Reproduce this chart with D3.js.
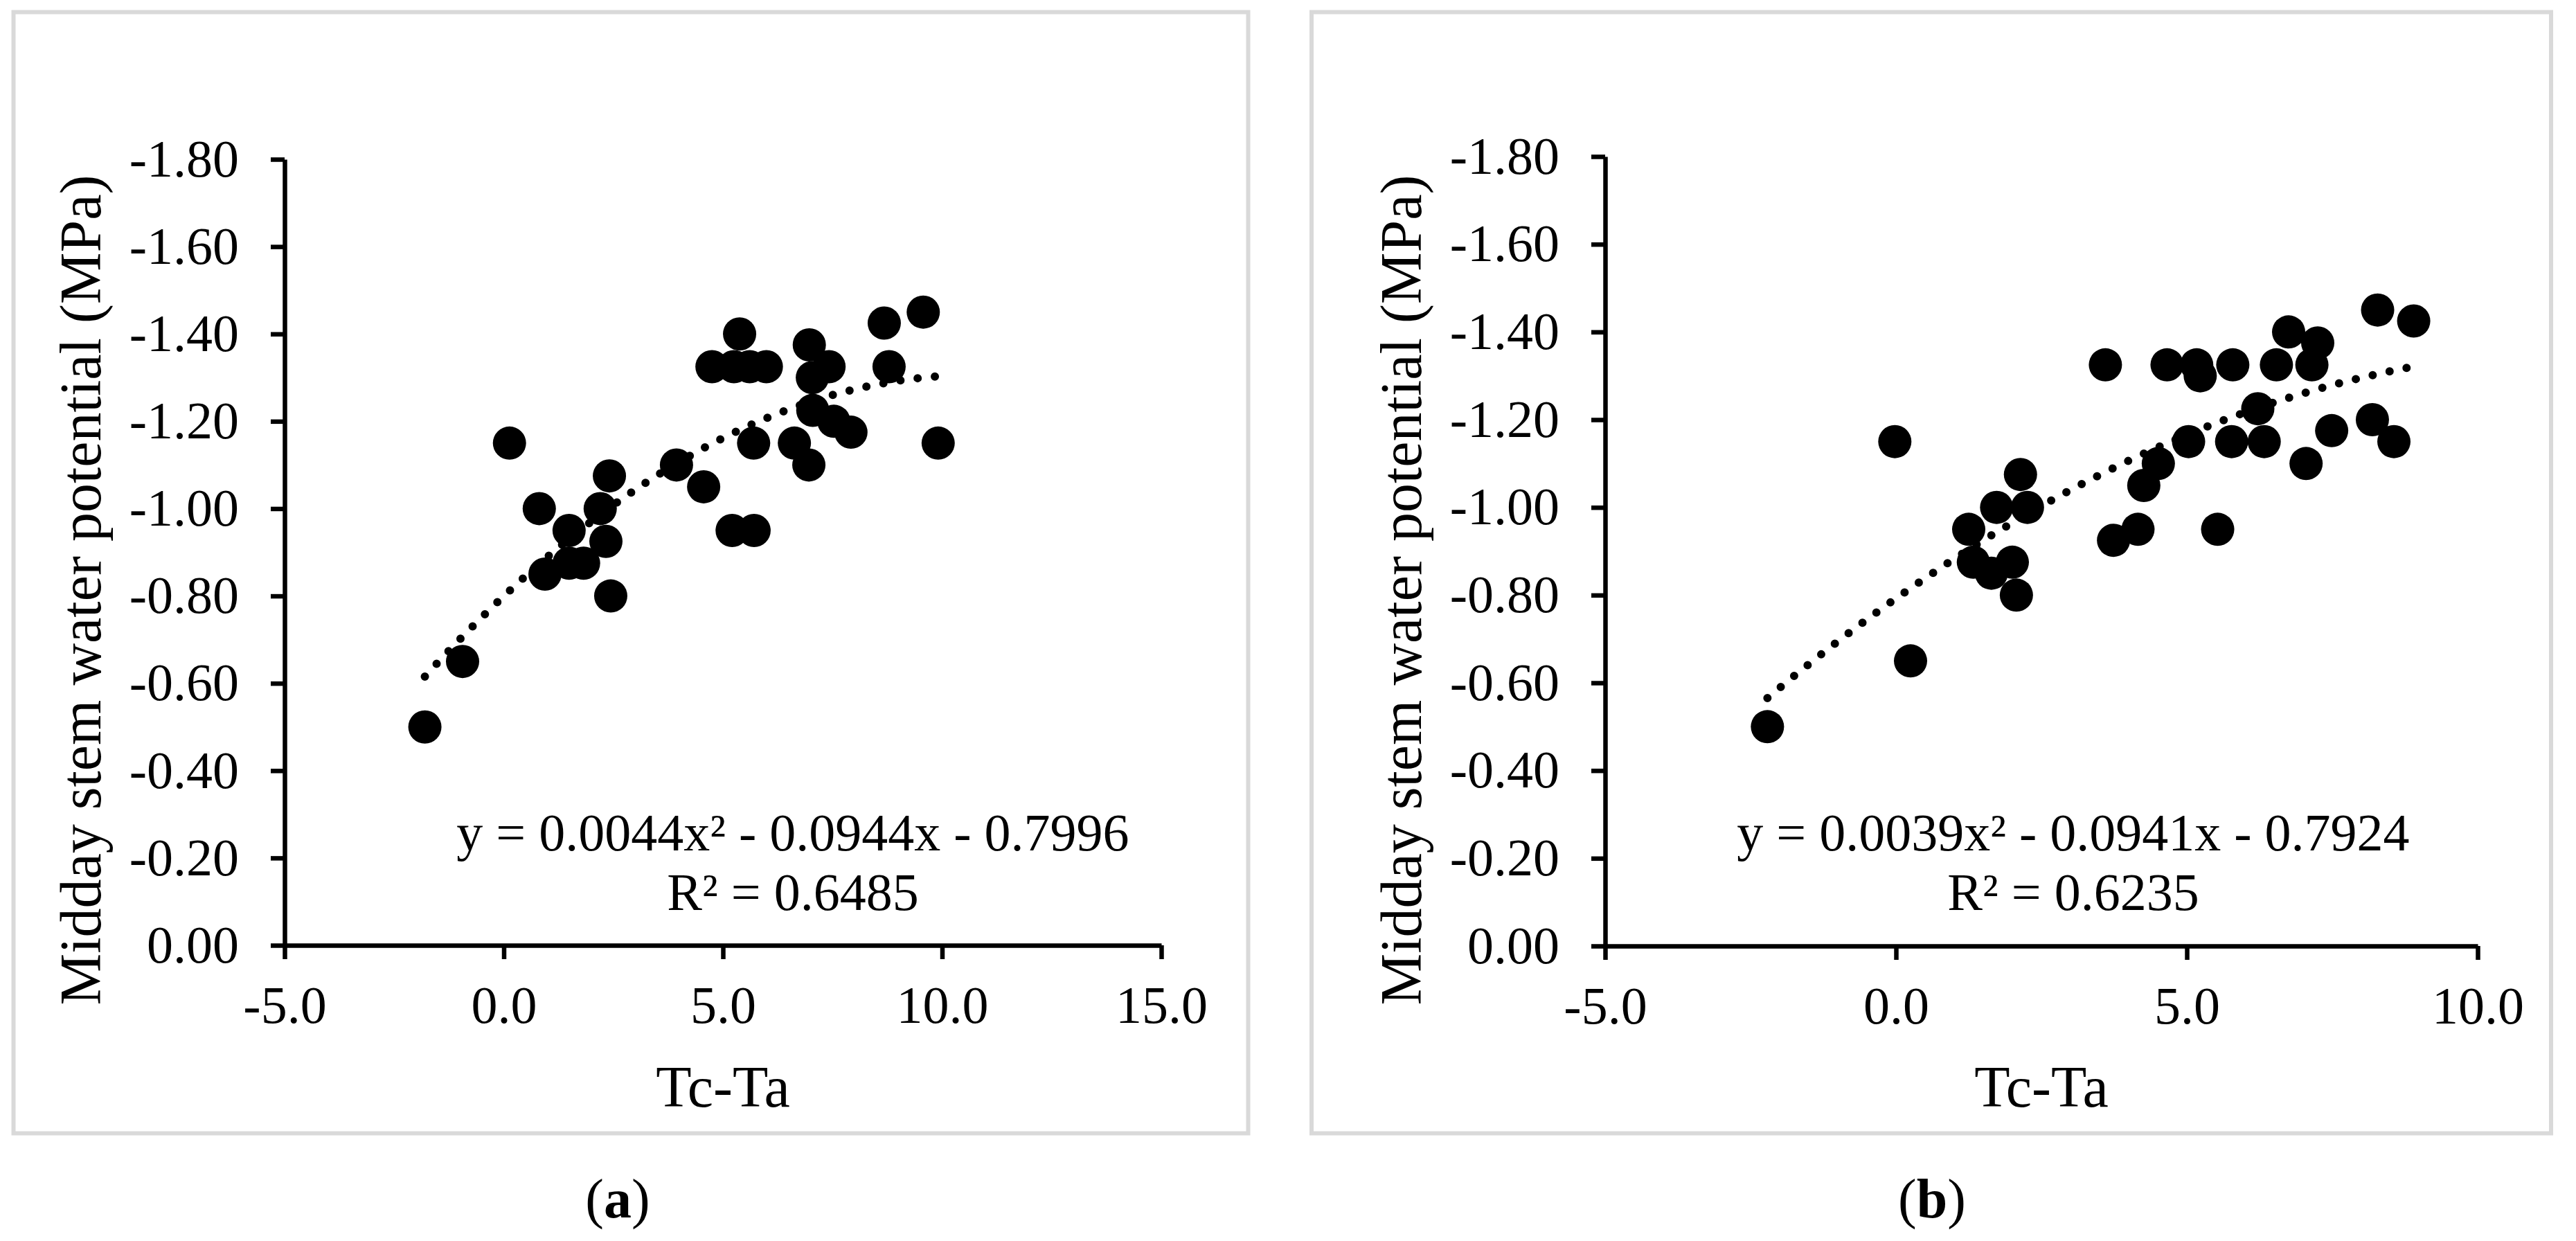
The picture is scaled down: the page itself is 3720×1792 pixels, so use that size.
<!DOCTYPE html>
<html lang="en">
<head>
  <meta charset="utf-8">
  <title>Midday stem water potential vs Tc-Ta</title>
  <script src="https://d3js.org/d3.v7.min.js"></script>
  <style>
    body { margin: 0; background: #fff; }
    svg { display: block; font-family: "Liberation Serif", "Times New Roman", serif; }
  </style>
</head>
<body>

<svg width="3720" height="1792"></svg>

<script>
  // panel (a)
  var tcTaA = [-1.80, -0.94, 0.13, 0.81, 0.94, 1.49, 1.49, 1.82, 2.20, 2.33, 2.41, 2.44,
               3.94, 4.56, 4.75, 5.25, 5.61, 5.99, 5.38, 5.21, 5.71, 5.70, 6.63, 6.96,
               6.97, 7.04, 7.42, 7.05, 7.53, 7.92, 8.68, 8.79, 9.57, 9.91];
  var swpA  = [-0.50, -0.65, -1.15, -1.00, -0.85, -0.95, -0.875, -0.875, -1.00, -0.925, -1.075, -0.80,
               -1.10, -1.05, -1.325, -1.325, -1.325, -1.325, -1.40, -0.95, -0.95, -1.15, -1.15, -1.10,
               -1.375, -1.30, -1.325, -1.225, -1.20, -1.175, -1.425, -1.325, -1.45, -1.15];
  var xTicksA = [-5, 0, 5, 10, 15];
  var fitA = [0.0044, -0.0944, -0.7996];
  var eqA = ["y = 0.0044x² - 0.0944x - 0.7996", "R² = 0.6485"];

  // panel (b)
  var tcTaB = [-2.21, -0.02, 0.25, 1.25, 1.33, 1.64, 1.73, 2.00, 2.07, 2.14, 2.26, 3.60,
               3.74, 4.16, 4.26, 4.51, 4.66, 5.03, 5.17, 5.23, 5.53, 5.77, 5.79, 6.22,
               6.33, 6.54, 6.75, 7.05, 7.15, 7.25, 7.49, 8.19, 8.28, 8.56, 8.90];
  var swpB  = [-0.50, -1.15, -0.65, -0.95, -0.875, -0.85, -1.00, -0.875, -0.80, -1.075, -1.00, -1.325,
               -0.925, -0.95, -1.05, -1.10, -1.325, -1.15, -1.325, -1.30, -0.95, -1.15, -1.325, -1.225,
               -1.15, -1.325, -1.40, -1.10, -1.325, -1.375, -1.175, -1.20, -1.45, -1.15, -1.425];
  var xTicksB = [-5, 0, 5, 10];
  var fitB = [0.0039, -0.0941, -0.7924];
  var eqB = ["y = 0.0039x² - 0.0941x - 0.7924", "R² = 0.6235"];

  var yTicks = [0, -0.2, -0.4, -0.6, -0.8, -1.0, -1.2, -1.4, -1.6, -1.8];
  var yTitle = "Midday stem water potential (MPa)";
  var xTitle = "Tc-Ta";

  var svg = d3.select("svg");

  function drawPanel(p) {
    var g = svg.append("g");

    g.append("rect")
        .attr("x", p.box[0]).attr("y", p.box[1])
        .attr("width", p.box[2]).attr("height", p.box[3])
        .attr("fill", "none")
        .attr("stroke", "#d9d9d9")
        .attr("stroke-width", 6);

    var x = d3.scaleLinear()
        .domain([p.xTicks[0], p.xTicks[p.xTicks.length - 1]])
        .range([p.left, p.right]);
    var y = d3.scaleLinear()
        .domain([0, -1.8])
        .range([p.bottom, p.top]);

    var xAxis = d3.axisBottom(x)
        .tickValues(p.xTicks)
        .tickSize(20).tickSizeOuter(0).tickPadding(38)
        .tickFormat(function(d) { return d.toFixed(1); });
    var yAxis = d3.axisLeft(y)
        .tickValues(yTicks)
        .tickSize(20).tickSizeOuter(0).tickPadding(46)
        .tickFormat(function(d) { return d.toFixed(2); });

    var gx = g.append("g")
        .attr("transform", "translate(0," + p.bottom + ")")
        .call(xAxis);
    var gy = g.append("g")
        .attr("transform", "translate(" + p.left + ",0)")
        .call(yAxis);

    [gx, gy].forEach(function(a) {
      a.attr("font-family", null).attr("font-size", null);
      a.selectAll("path, line").attr("stroke", "#000").attr("stroke-width", 6.5);
      a.selectAll("text").attr("fill", "#000").style("font-size", "76px");
    });

    // markers
    var pts = p.xs.map(function(v, i) { return {x: v, y: p.ys[i]}; });
    g.selectAll(".pt")
        .data(pts)
        .enter().append("circle")
        .attr("class", "pt")
        .attr("cx", function(d) { return x(d.x); })
        .attr("cy", function(d) { return y(d.y); })
        .attr("r", 24)
        .attr("fill", "#000");

    // polynomial trend line (round dots)
    var ext = d3.extent(p.xs);
    var fx = d3.range(0, 121).map(function(i) { return ext[0] + (ext[1] - ext[0]) * i / 120; });
    var line = d3.line()
        .x(function(d) { return x(d); })
        .y(function(d) { return y(p.fit[0] * d * d + p.fit[1] * d + p.fit[2]); });
    g.append("path")
        .datum(fx)
        .attr("d", line)
        .attr("fill", "none")
        .attr("stroke", "#000")
        .attr("stroke-width", 12)
        .attr("stroke-linecap", "round")
        .attr("stroke-dasharray", "0 25");

    // equation
    g.append("text")
        .attr("x", p.eqX).attr("y", 1228)
        .attr("text-anchor", "middle")
        .style("font-size", "76px")
        .text(p.eq[0]);
    g.append("text")
        .attr("x", p.eqX).attr("y", 1314)
        .attr("text-anchor", "middle")
        .style("font-size", "76px")
        .text(p.eq[1]);

    // axis titles
    g.append("text")
        .attr("transform", "translate(" + (p.left - 266) + ",852) rotate(-90)")
        .attr("text-anchor", "middle")
        .style("font-size", "84px")
        .text(yTitle);
    g.append("text")
        .attr("x", (p.left + p.right) / 2).attr("y", 1598)
        .attr("text-anchor", "middle")
        .style("font-size", "84px")
        .text(xTitle);

    // panel label
    var lab = g.append("text")
        .attr("x", p.labelX).attr("y", 1758)
        .attr("text-anchor", "middle")
        .style("font-size", "80px");
    lab.append("tspan").text("(");
    lab.append("tspan").attr("font-weight", "bold").text(p.label);
    lab.append("tspan").text(")");
  }

  drawPanel({
    box: [19.5, 17.5, 1783, 1619],
    left: 411, right: 1677, top: 230, bottom: 1365,
    xTicks: xTicksA, xs: tcTaA, ys: swpA, fit: fitA, eq: eqA,
    eqX: 1145, labelX: 892, label: "a"
  });

  drawPanel({
    box: [1894, 17.5, 1790, 1619],
    left: 2318, right: 3578, top: 226, bottom: 1366,
    xTicks: xTicksB, xs: tcTaB, ys: swpB, fit: fitB, eq: eqB,
    eqX: 2994, labelX: 2790, label: "b"
  });
</script>

</body>
</html>
